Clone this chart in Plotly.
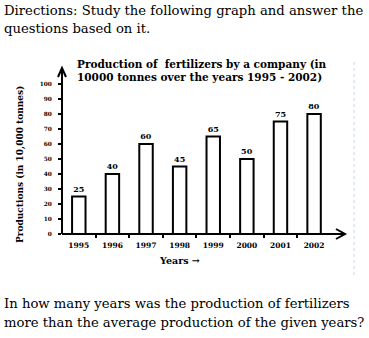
import plotly.graph_objects as go

years = ["1995", "1996", "1997", "1998", "1999", "2000", "2001", "2002"]
production = [25, 40, 60, 45, 65, 50, 75, 80]
y_ticks = [0, 10, 20, 30, 40, 50, 60, 70, 80, 90, 100]

W, H = 369, 338
L, R, T, B = 62, 24, 68, 104
PW, PH = W - L - R, H - T - B

def px(x):
    return (x - L) / PW

def py(y):
    return (H - B - y) / PH

serif = "DejaVu Serif"
pos = list(range(len(years)))

fig = go.Figure(go.Bar(
    x=pos, y=production, width=0.4,
    marker=dict(color="white", line=dict(color="black", width=2)),
    text=[f"<b>{v}</b>" for v in production], textposition="outside",
    textfont=dict(family=serif, size=8, color="black"),
    cliponaxis=False, hoverinfo="skip",
))

fig.update_layout(
    width=W, height=H, margin=dict(l=L, r=R, t=T, b=B),
    paper_bgcolor="white", plot_bgcolor="white", showlegend=False,
    font=dict(family=serif, color="black"),
    xaxis=dict(
        range=[-0.5, 7.92], tickmode="array", tickvals=pos,
        ticktext=[f"<b>{y}</b>" for y in years],
        ticks="", showgrid=False, zeroline=False, showline=False,
        ticklabelstandoff=5,
        tickfont=dict(family=serif, size=7.5, color="black"),
        minor=dict(tickmode="array", tickvals=[i + 0.5 for i in pos[:-1]],
                   ticks="outside", ticklen=3, tickwidth=1.5, tickcolor="black"),
    ),
    yaxis=dict(
        range=[0, 110.7], tickmode="array", tickvals=y_ticks,
        ticktext=[f"<b>{v}</b>" for v in y_ticks],
        ticks="outside", ticklen=3, tickwidth=1.5, tickcolor="black",
        showgrid=False, zeroline=False, showline=False,
        ticklabelstandoff=5,
        tickfont=dict(family=serif, size=5.8, color="black"),
    ),
)

# axes with arrowheads
ax_line = dict(color="black", width=2)
fig.add_shape(type="line", xref="paper", yref="paper", x0=0, y0=0, x1=1, y1=0, line=ax_line)
fig.add_shape(type="line", xref="paper", yref="paper", x0=0, y0=0, x1=0, y1=1, line=ax_line)
fig.add_shape(type="path", xref="paper", yref="paper",
              path=f"M {1 - 9 / PW},{5 / PH} L 1,0 L {1 - 9 / PW},{-5 / PH}", line=ax_line)
fig.add_shape(type="path", xref="paper", yref="paper",
              path=f"M {-4 / PW},{1 - 9 / PH} L 0,1 L {4 / PW},{1 - 9 / PH}", line=ax_line)

# faint dotted frame edge on the right
fig.add_shape(type="line", xref="paper", yref="paper", x0=px(354), x1=px(354),
              y0=py(62), y1=py(278), line=dict(color="#c9d3f2", width=1, dash="dot"))

def note(text, x, y, size, bold=False, xanchor="left", angle=0):
    fig.add_annotation(text=f"<b>{text}</b>" if bold else text,
                       xref="paper", yref="paper", x=px(x), y=py(y),
                       xanchor=xanchor, yanchor="middle", showarrow=False, textangle=angle,
                       font=dict(family=serif, size=size, color="black"))

note("Directions: Study the following graph and answer the", 2, 10, 13.2)
note("questions based on it.", 2, 29, 13.2)
note("Production of  fertilizers by a company (in", 75, 64, 10.5, bold=True)
note("10000 tonnes over the years 1995 - 2002)", 75, 77, 10.5, bold=True)
note("Productions (in 10,000 tonnes)", 20, 165, 9, bold=True, xanchor="center", angle=-90)
note("Years \u2192", 179, 260, 9.5, bold=True, xanchor="center")
note("In how many years was the production of fertilizers", 2, 303, 13.2)
note("more than the average production of the given years?", 2, 322, 13.2)

fig.write_html("out.html")
